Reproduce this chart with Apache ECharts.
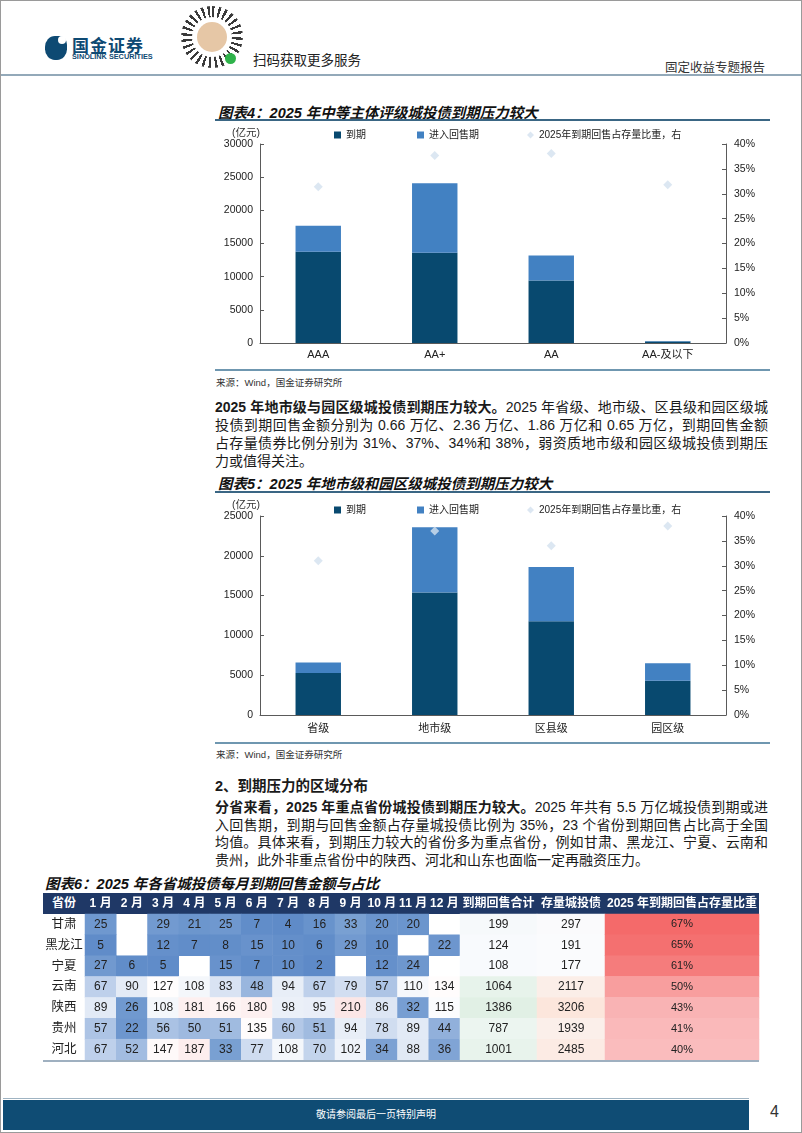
<!DOCTYPE html>
<html>
<head>
<meta charset="utf-8">
<script src="https://cdn.jsdelivr.net/npm/echarts@6/dist/echarts.min.js"></script>
<style>
  html, body { margin:0; padding:0; background:#fff; }
  body { width:802px; height:1133px; position:relative; overflow:hidden;
         font-family:"Liberation Sans","Noto Sans CJK SC",sans-serif; color:#1a1a1a; }
  .abs { position:absolute; }
  .frame { left:0; top:0; width:802px; height:1133px; box-sizing:border-box; border:1px solid #9a9a9a; }
  .title { font-size:14.5px; font-weight:bold; font-style:italic; color:#111; white-space:nowrap; }
  .rule { height:2px; background:#3a6684; }
  .rule2 { height:2px; background:#6f97b0; }
  .src { font-size:9.5px; color:#333; white-space:nowrap; }
  .para div { height:18px; line-height:18px; font-size:14px; white-space:nowrap;
              text-align:justify; text-align-last:justify; }
  .para div.last { text-align-last:left; }
  b { font-weight:bold; }
</style>
</head>
<body>
<div class="abs frame"></div>

<!-- header -->
<div class="abs" style="left:45px;top:36px;width:22px;height:24px;background:#0e4a73;border-radius:45% 35% 45% 45%;"></div>
<div class="abs" style="left:58px;top:36px;width:8px;height:8px;background:#fff;border-radius:50%;"></div>
<div class="abs" style="left:72px;top:32px;font-size:17px;font-weight:bold;color:#0e4a73;letter-spacing:1px;">国金证券</div>
<div class="abs" style="left:72px;top:52px;font-size:7.3px;font-weight:bold;color:#0e4a73;white-space:nowrap;">SINOLINK SECURITIES</div>
<div class="abs" style="left:181px;top:6px;width:62px;height:62px;border-radius:50%;background:repeating-conic-gradient(#3a3a3a 0deg 5deg,#fff 5deg 13deg);"></div>
<div class="abs" style="left:192px;top:17px;width:40px;height:40px;border-radius:50%;background:#fff;"></div>
<div class="abs" style="left:197px;top:22px;width:30px;height:30px;border-radius:50%;background:#e6c7a6;"></div>
<div class="abs" style="left:225px;top:53px;width:11px;height:11px;border-radius:50%;background:#2fb34b;"></div>
<div class="abs" style="left:253px;top:49px;font-size:13.5px;color:#222;white-space:nowrap;">扫码获取更多服务</div>
<div class="abs" style="left:665px;top:57px;font-size:12.5px;color:#333;white-space:nowrap;">固定收益专题报告</div>
<div class="abs" style="left:1px;top:74px;width:800px;height:2px;background:#93a9b9;"></div>

<!-- chart 4 -->
<div class="abs title" style="left:218px;top:101px;">图表4：2025 年中等主体评级城投债到期压力较大</div>
<div class="abs rule" style="left:215px;top:119px;width:555px;"></div>
<div id="c4" class="abs" style="left:210px;top:122px;width:560px;height:245px;"></div>
<div class="abs rule2" style="left:215px;top:369px;width:555px;"></div>
<div class="abs src" style="left:216px;top:375px;">来源：Wind，国金证券研究所</div>

<div class="abs para" style="left:215px;top:398px;width:553px;">
  <div><b>2025 年地市级与园区级城投债到期压力较大。</b>2025 年省级、地市级、区县级和园区级城</div>
  <div>投债到期回售金额分别为 0.66 万亿、2.36 万亿、1.86 万亿和 0.65 万亿，到期回售金额</div>
  <div>占存量债券比例分别为 31%、37%、34%和 38%，弱资质地市级和园区级城投债到期压</div>
  <div class="last">力或值得关注。</div>
</div>

<!-- chart 5 -->
<div class="abs title" style="left:218px;top:472px;">图表5：2025 年地市级和园区级城投债到期压力较大</div>
<div class="abs rule" style="left:215px;top:491px;width:555px;"></div>
<div id="c5" class="abs" style="left:210px;top:494px;width:560px;height:245px;"></div>
<div class="abs rule2" style="left:215px;top:742px;width:555px;"></div>
<div class="abs src" style="left:216px;top:747px;">来源：Wind，国金证券研究所</div>

<div class="abs" style="left:215px;top:774px;font-size:14.5px;font-weight:bold;white-space:nowrap;">2、到期压力的区域分布</div>
<div class="abs para" style="left:215px;top:799px;width:553px;">
  <div style="height:17.7px;line-height:17.7px;"><b>分省来看，2025 年重点省份城投债到期压力较大。</b>2025 年共有 5.5 万亿城投债到期或进</div>
  <div style="height:17.7px;line-height:17.7px;">入回售期，到期与回售金额占存量城投债比例为 35%，23 个省份到期回售占比高于全国</div>
  <div style="height:17.7px;line-height:17.7px;">均值。具体来看，到期压力较大的省份多为重点省份，例如甘肃、黑龙江、宁夏、云南和</div>
  <div class="last" style="height:17.7px;line-height:17.7px;">贵州，此外非重点省份中的陕西、河北和山东也面临一定再融资压力。</div>
</div>

<!-- table 6 -->
<div class="abs title" style="left:45px;top:872px;">图表6：2025 年各省城投债每月到期回售金额与占比</div>
<div class="abs" style="left:43px;top:893px;width:716px;height:21px;background:#1f3866;"></div>
<div class="abs" style="left:43px;top:893px;width:42px;height:21px;line-height:21px;text-align:center;color:#fff;font-weight:bold;font-size:12px;">省份</div>
<div id="c6" class="abs" style="left:0px;top:880px;width:802px;height:185px;"></div>
<div class="abs" style="left:43px;top:1060px;width:716px;height:2px;background:#9fb0c0;"></div>

<!-- footer -->
<div class="abs" style="left:3px;top:1098px;width:746px;height:1px;background:#9fb3c2;"></div>
<div class="abs" style="left:3px;top:1100px;width:746px;height:30px;background:#0f4c74;"></div>
<div class="abs" style="left:3px;top:1100px;width:746px;height:30px;line-height:30px;text-align:center;color:#fff;font-size:10px;">敬请参阅最后一页特别声明</div>
<div class="abs" style="left:770px;top:1103px;font-size:16px;color:#333;">4</div>

<script>
// ---------- data ----------
const legendNames = ['到期', '进入回售期', '2025年到期回售占存量比重，右'];

const ratingCats = ['AAA', 'AA+', 'AA', 'AA-及以下'];
const ratingMature = [13750, 13600, 9430, 230];
const ratingPut = [3910, 10480, 3760, 70];
const ratingShare = [31.4, 37.7, 38.1, 31.8];

const levelCats = ['省级', '地市级', '区县级', '园区级'];
const levelMature = [5290, 15380, 11790, 4290];
const levelPut = [1310, 8220, 6810, 2210];
const levelShare = [31, 37, 34, 38];

const provinces = ['甘肃', '黑龙江', '宁夏', '云南', '陕西', '贵州', '河北'];
const monthLabels = ['1 月','2 月','3 月','4 月','5 月','6 月','7 月','8 月','9 月','10 月','11 月','12 月'];
const monthlyValues = [
  [25, null, 29, 21, 25, 7, 4, 16, 33, 20, 20, null],
  [5, null, 12, 7, 8, 15, 10, 6, 29, 10, null, 22],
  [27, 6, 5, null, 15, 7, 10, 2, null, 12, 24, null],
  [67, 90, 127, 108, 83, 48, 94, 67, 79, 57, 110, 134],
  [89, 26, 108, 181, 166, 180, 98, 95, 210, 86, 32, 115],
  [57, 22, 56, 50, 51, 135, 60, 51, 94, 78, 89, 44],
  [67, 52, 147, 187, 33, 77, 108, 70, 102, 34, 88, 36]
];
const totalDue = [199, 124, 108, 1064, 1386, 787, 1001];
const bondStock = [297, 191, 177, 2117, 3206, 1939, 2485];
const shareRatio = [67, 65, 61, 50, 43, 41, 40];
const tableHeads = ['到期回售合计', '存量城投债', '2025 年到期回售占存量比重'];

// ---------- charts ----------
const FONT = '"Liberation Sans","Noto Sans CJK SC",sans-serif';
const AXC = '#5a5a5a';

function barChart(id, cats, mature, put, share, yMax, legendTop, nameGap, labelMargin) {
  const chart = echarts.init(document.getElementById(id), null, { renderer: 'canvas' });
  const legendBase = { top: legendTop, itemWidth: 7, itemHeight: 7, itemGap: 5,
    textStyle: { fontSize: 10, color: '#222', fontFamily: FONT } };
  chart.setOption({
    animation: false,
    textStyle: { fontFamily: FONT },
    legend: [
      Object.assign({ left: 119, data: [{ name: legendNames[0], icon: 'rect' }] }, legendBase),
      Object.assign({ left: 202, data: [{ name: legendNames[1], icon: 'rect' }] }, legendBase),
      Object.assign({ left: 312, data: [{ name: legendNames[2], icon: 'diamond' }] }, legendBase)
    ],
    grid: { left: 50, right: 44, top: 22, bottom: 245 - 22 - 199 },
    xAxis: {
      type: 'category', data: cats,
      axisLine: { lineStyle: { color: AXC } },
      axisTick: { inside: true, length: 4, lineStyle: { color: AXC } },
      axisLabel: { color: '#222', fontSize: 11, margin: labelMargin, interval: 0 }
    },
    yAxis: [
      { type: 'value', min: 0, max: yMax, interval: 5000,
        name: '(亿元)', nameLocation: 'end', nameGap: nameGap,
        nameTextStyle: { align: 'right', color: '#333', fontSize: 10.5 },
        axisLine: { show: true, lineStyle: { color: AXC } },
        axisTick: { show: true, inside: true, length: 4, lineStyle: { color: AXC } },
        splitLine: { show: false },
        axisLabel: { color: '#222', fontSize: 10.5, margin: 7, formatter: v => String(v) } },
      { type: 'value', min: 0, max: 40, interval: 5,
        axisLine: { show: true, lineStyle: { color: AXC } },
        axisTick: { show: true, inside: true, length: 4, lineStyle: { color: AXC } },
        splitLine: { show: false },
        axisLabel: { color: '#222', fontSize: 10.5, margin: 8, formatter: '{value}%' } }
    ],
    series: [
      { name: legendNames[0], type: 'bar', stack: 'total', data: mature, barWidth: '39%',
        itemStyle: { color: '#08496f' } },
      { name: legendNames[1], type: 'bar', stack: 'total', data: put, barWidth: '39%',
        itemStyle: { color: '#4281c2' } },
      { name: legendNames[2], type: 'scatter', yAxisIndex: 1, data: share,
        symbol: 'diamond', symbolSize: 9, itemStyle: { color: '#d3e1ef' } }
    ]
  });
}

barChart('c4', ratingCats, ratingMature, ratingPut, ratingShare, 30000, 3, 6, 6);
barChart('c5', levelCats, levelMature, levelPut, levelShare, 25000, 6, 4, 8);

// ---------- table (heatmap) ----------
(function () {
  const chart = echarts.init(document.getElementById('c6'));
  const monthData = [];
  monthlyValues.forEach((row, r) => row.forEach((v, c) => { if (v !== null) monthData.push([c, r, v]); }));
  const colData = arr => arr.map((v, r) => [0, r, v]);

  const gridTop = 34, gridH = 146;
  const cols = [
    { left: 85, width: 375 },
    { left: 460, width: 77 },
    { left: 537, width: 68 },
    { left: 605, width: 154 }
  ];
  const headerLabel = { color: '#fff', fontWeight: 'bold', fontSize: 12, margin: 4, interval: 0 };
  const hidden = { show: false };

  const xAxes = [
    { gridIndex: 0, type: 'category', data: monthLabels, position: 'top',
      axisLine: hidden, axisTick: hidden, axisLabel: headerLabel },
    { gridIndex: 1, type: 'category', data: [tableHeads[0]], position: 'top',
      axisLine: hidden, axisTick: hidden, axisLabel: headerLabel },
    { gridIndex: 2, type: 'category', data: [tableHeads[1]], position: 'top',
      axisLine: hidden, axisTick: hidden, axisLabel: headerLabel },
    { gridIndex: 3, type: 'category', data: [tableHeads[2]], position: 'top',
      axisLine: hidden, axisTick: hidden, axisLabel: headerLabel }
  ];
  const yAxes = cols.map((c, i) => ({
    gridIndex: i, type: 'category', data: provinces, inverse: true,
    axisLine: hidden, axisTick: hidden, splitLine: hidden,
    axisLabel: i === 0 ? { color: '#222', fontSize: 12.5, align: 'center', margin: 21 } : { show: false }
  }));
  const cellLabel = { show: true, color: '#222', fontSize: 12, fontFamily: FONT,
    formatter: p => p.value[2] };

  chart.setOption({
    animation: false,
    textStyle: { fontFamily: FONT },
    grid: cols.map(c => ({ left: c.left, width: c.width, top: gridTop, height: gridH })),
    xAxis: xAxes,
    yAxis: yAxes,
    visualMap: [
      { show: false, seriesIndex: 0, min: 0, max: 210, dimension: 2,
        inRange: { color: ['#5c89c7', '#739bd0', '#b3c8e7', '#e4ebf6', '#ffffff', '#fef8f8', '#fdf0f0', '#fbe6e6'] } },
      { show: false, seriesIndex: 1, min: 100, max: 1400, dimension: 2,
        inRange: { color: ['#f8fafd', '#e1f0e5'] } },
      { show: false, seriesIndex: 2, min: 170, max: 3210, dimension: 2,
        inRange: { color: ['#fafbfd', '#fce6dc'] } },
      { show: false, seriesIndex: 3, min: 40, max: 67, dimension: 2,
        inRange: { color: ['#fabcbd', '#f46a6a'] } }
    ],
    series: [
      { type: 'heatmap', xAxisIndex: 0, yAxisIndex: 0, data: monthData, label: cellLabel },
      { type: 'heatmap', xAxisIndex: 1, yAxisIndex: 1, data: colData(totalDue), label: cellLabel },
      { type: 'heatmap', xAxisIndex: 2, yAxisIndex: 2, data: colData(bondStock), label: cellLabel },
      { type: 'heatmap', xAxisIndex: 3, yAxisIndex: 3, data: colData(shareRatio),
        label: Object.assign({}, cellLabel, { fontSize: 11, formatter: p => p.value[2] + '%' }) }
    ]
  });
})();
</script>
</body>
</html>
